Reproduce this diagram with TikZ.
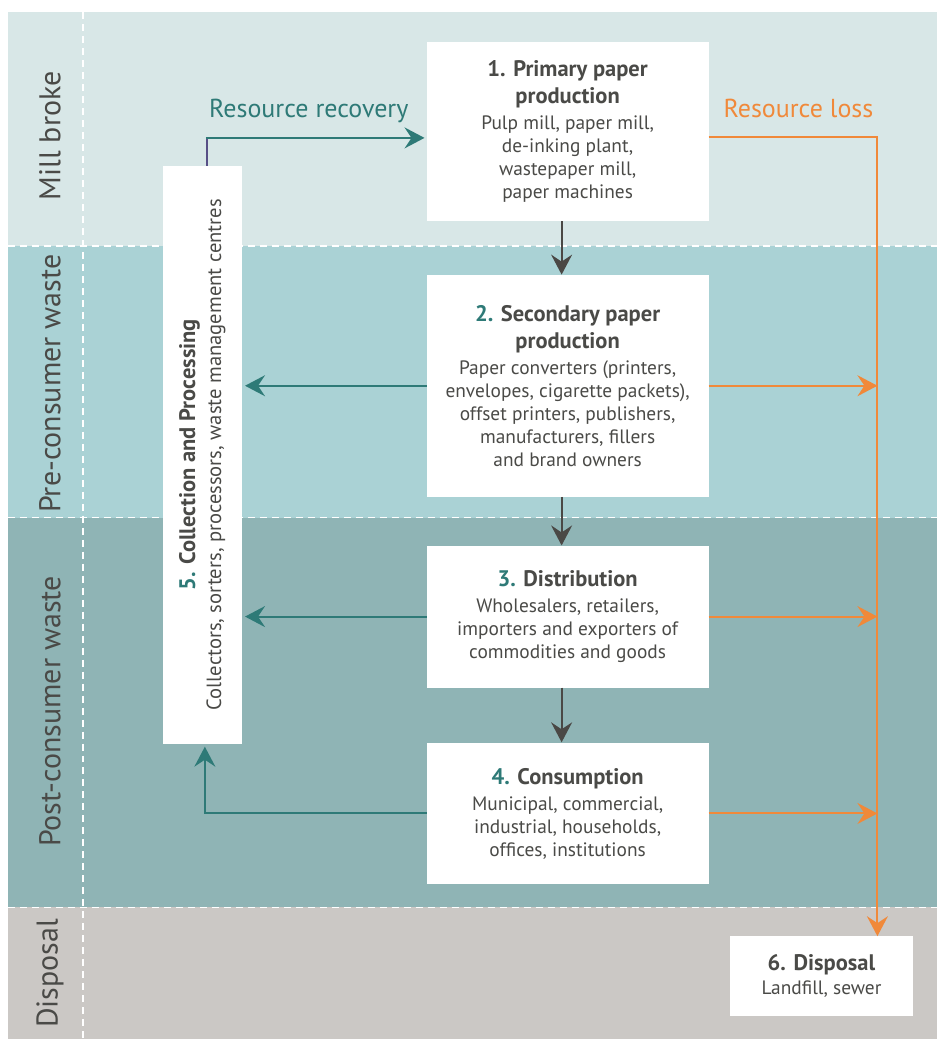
\documentclass[tikz,border=0pt]{standalone}
\usepackage{fontspec}
\setmainfont{PT Sans}
\usetikzlibrary{arrows.meta}
\definecolor{bandA}{HTML}{D8E7E7}
\definecolor{bandB}{HTML}{AAD2D5}
\definecolor{bandC}{HTML}{8FB4B5}
\definecolor{bandD}{HTML}{CBC8C5}
\definecolor{tealc}{HTML}{2E7A77}
\definecolor{orangec}{HTML}{F0893A}
\definecolor{txtc}{HTML}{4A4A47}
\definecolor{arrc}{HTML}{4A4845}
\definecolor{purc}{HTML}{574F86}
\newcommand{\hd}[1]{{\fontsize{22.5}{28}\selectfont\bfseries #1}}
\newcommand{\nm}[1]{\textcolor{tealc}{#1}}
\begin{document}
\begin{tikzpicture}[x=1pt,y=-1pt,
  box/.style={fill=white, draw=none, inner sep=0pt, align=center, text=txtc,
    font=\fontsize{19.4}{23}\selectfont},
  bandlabel/.style={rotate=90, text=txtc, font=\fontsize{30}{36}\selectfont},
  dash line/.style={white, line width=1.4pt, dash pattern=on 7pt off 5pt},
  tip/.style={-{Stealth[length=20pt,width=21pt,inset=7pt]}},
  flowarrow/.style={arrc, line width=2pt, tip},
  recarrow/.style={tealc, line width=2pt, tip},
  lossarrow/.style={orangec, line width=2pt, tip}
]
% background
\fill[white] (0,0) rectangle (938,1040);
\fill[bandA] (8,12) rectangle (938,246);
\fill[bandB] (8,246) rectangle (938,518);
\fill[bandC] (8,518) rectangle (938,908);
\fill[bandD] (8,908) rectangle (938,1040);
\draw[dash line] (8,246) -- (938,246);
\draw[dash line] (8,518) -- (938,518);
\draw[dash line] (8,908) -- (938,908);
\draw[dash line] (83,12) -- (83,1040);
% band labels
\node[bandlabel] (lA) at (50,136) {Mill broke};
\node[bandlabel] (lB) at (50,384) {Pre-consumer waste};
\node[bandlabel] (lC) at (50,712) {Post-consumer waste};
\node[bandlabel] (lD) at (50,974) {Disposal};
% boxes
\node[box, minimum width=282pt, minimum height=179pt] (b1) at (568,131.5)
  {\hd{1. Primary paper}\\[4pt]\hd{production}\\[3pt]
   Pulp mill, paper mill,\\ de-inking plant,\\ wastepaper mill,\\ paper machines};
\node[box, minimum width=282pt, minimum height=222pt] (b2) at (568,386)
  {\hd{\nm{2.} Secondary paper}\\[4pt]\hd{production}\\[3pt]
   Paper converters (printers,\\ envelopes, cigarette packets),\\ offset printers, publishers,\\ manufacturers, fillers\\ and brand owners};
\node[box, minimum width=282pt, minimum height=142pt] (b3) at (568,617)
  {\hd{\nm{3.} Distribution}\\[3pt]
   Wholesalers, retailers,\\ importers and exporters of\\ commodities and goods};
\node[box, minimum width=282pt, minimum height=142pt] (b4) at (568,814)
  {\hd{\nm{4.} Consumption}\\[3pt]
   Municipal, commercial,\\ industrial, households,\\ offices, institutions};
\node[box, minimum width=79pt, minimum height=578pt] (b5) at (202.5,455) {};
\node[rotate=90, align=center, text=txtc, font=\fontsize{20.6}{26}\selectfont] (b5t) at (b5.center)
  {\hd{\nm{5.} Collection and Processing}\\ Collectors, sorters, processors, waste management centres};
\node[box, minimum width=184pt, minimum height=80pt] (b6) at (822,977)
  {\hd{6. Disposal}\\[1pt] Landfill, sewer};
% main flow
\coordinate (fx) at (562,0);
\draw[flowarrow] (b1.south -| fx) -- (b2.north -| fx);
\draw[flowarrow] (b2.south -| fx) -- (b3.north -| fx);
\draw[flowarrow] (b3.south -| fx) -- (b4.north -| fx);
% recovery
\draw[recarrow, shorten >=3pt] (b2.west) -- (b2.west -| b5.east);
\draw[recarrow, shorten >=3pt] (b3.west) -- (b3.west -| b5.east);
\coordinate (c4) at (205,814);
\draw[recarrow, shorten >=3pt] (b4.west) -- (c4) -- (c4 |- b5.south);
\coordinate (rr) at (207,138);
\draw[purc, line width=2pt] (rr |- b5.north) -- (rr);
\draw[recarrow, shorten >=2pt] ([xshift=-1pt]rr) -- (rr -| b1.west);
\node[text=tealc, font=\fontsize{26}{30}\selectfont, anchor=base] (rrl) at (309,118) {Resource recovery};
% loss
\coordinate (lc) at (878,137);
\draw[lossarrow] (b1.east |- lc) -- (lc) -- (lc |- b6.north);
\draw[lossarrow] (b2.east) -- (b2.east -| lc);
\draw[lossarrow] (b3.east) -- (b3.east -| lc);
\draw[lossarrow] (b4.east) -- (b4.east -| lc);
\node[text=orangec, font=\fontsize{26}{30}\selectfont, anchor=base] (rll) at (799,118) {Resource loss};
\end{tikzpicture}
\end{document}
